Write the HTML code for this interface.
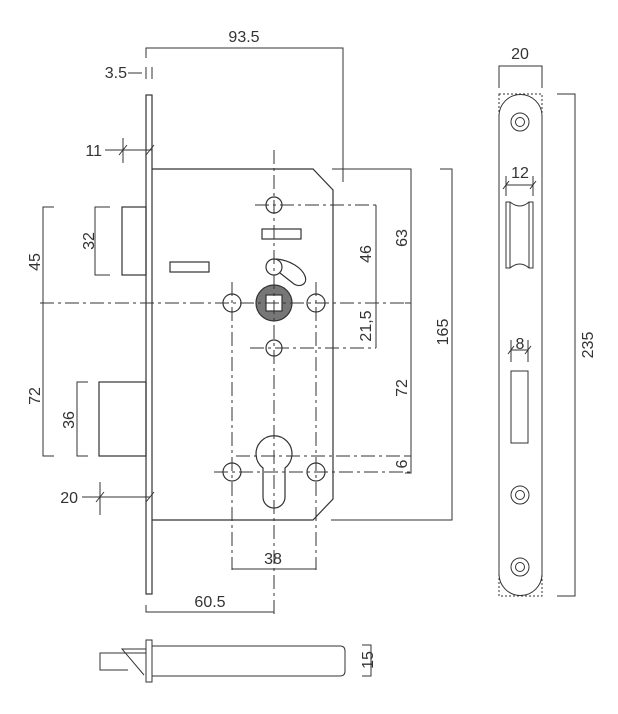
<!DOCTYPE html>
<html><head><meta charset="utf-8"><style>
html,body{margin:0;padding:0;background:#fff;}
svg{display:block;}
text{font-family:"Liberation Sans",sans-serif;font-size:16px;fill:#333;}
</style></head><body>
<svg width="618" height="714" viewBox="0 0 618 714" xmlns="http://www.w3.org/2000/svg">
<g stroke="#333" stroke-width="1.2" fill="none">
<rect x="146" y="95" width="6" height="499"/>
<path d="M152 169 H313 L333 190 V499 L313 520 H152"/>
<rect x="122" y="207" width="24" height="68"/>
<rect x="99" y="382" width="47" height="74"/>
<rect x="262" y="229" width="39" height="10"/>
<rect x="170" y="262" width="39" height="10"/>
<circle cx="274" cy="267" r="8"/>
<path d="M276 259 C290 260 302 268 305 276 C308 284 300 288 294 284 L280 273"/>
<circle cx="274" cy="303" r="18" fill="#777"/>
<rect x="266" y="295" width="16" height="16" fill="#fff"/>
<circle cx="274" cy="205" r="8"/>
<circle cx="232" cy="303" r="9"/>
<circle cx="316" cy="303" r="9"/>
<circle cx="274" cy="348" r="8"/>
<circle cx="232" cy="472" r="9"/>
<circle cx="316" cy="472" r="9"/>
<path d="M263 468 A18 18 0 1 1 285 468 V497 A11 11 0 0 1 263 497 Z"/>
</g>
<g stroke="#333" stroke-width="1" fill="none" stroke-dasharray="14 4 3 4">
<line x1="40" y1="303" x2="415" y2="303"/>
<line x1="274" y1="150" x2="274" y2="616"/>
<line x1="232" y1="282" x2="232" y2="570"/>
<line x1="316" y1="282" x2="316" y2="570"/>
<line x1="255" y1="205" x2="376" y2="205"/>
<line x1="250" y1="348" x2="376" y2="348"/>
<line x1="236" y1="456" x2="411" y2="456"/>
<line x1="214" y1="472" x2="411" y2="472"/>
</g>
<g stroke="#333" stroke-width="1" fill="none">
<path d="M146 58 V48 H343 V182"/>
<line x1="332" y1="169" x2="360" y2="169"/>
<path d="M128 73 H142 M146 67 V79 M152 67 V79"/>
<path d="M105 150 H152 M123 138 V163 M119 155 L127 145 M146 155 L154 145"/>
<path d="M110 207 H95 V275 H110"/>
<path d="M54 207 H43 V456 H54"/>
<path d="M88 382 H77 V456 H88"/>
<path d="M82 497 H150 M100 482 V515 M96 502 L104 492 M146 502 L154 492"/>
<path d="M376 205 V348 M370 303 H376"/>
<path d="M340 169 H411 V473 H405 M405 303 H411 M405 456 H411"/>
<path d="M440 169 H452 V520 H331"/>
<path d="M232 560 V569 H316 V560"/>
<path d="M146 605 V612 H274"/>
<rect x="146" y="640" width="6" height="42"/>
<path d="M152 646 H340 Q345 646 345 651 V671 Q345 676 340 676 H152"/>
<path d="M146 653 H100 V670 H128"/>
<path d="M146 649 H122 L144 675"/>
<path d="M362 645 H371 V676 H362"/>
<rect x="499" y="94" width="43" height="502" stroke-dasharray="2 2"/>
<path d="M499 116 A21.5 21.5 0 0 1 542 116 V574 A21.5 21.5 0 0 1 499 574 Z"/>
<circle cx="520" cy="122" r="9"/><circle cx="520" cy="122" r="4.5"/>
<circle cx="520" cy="495" r="9"/><circle cx="520" cy="495" r="4.5"/>
<circle cx="520" cy="567" r="9"/><circle cx="520" cy="567" r="4.5"/>
<path d="M506 202 H510 Q520 210 529 202 H533 V268 H529 Q520 260 510 268 H506 Z M510 202 V268 M529 202 V268"/>
<rect x="511" y="371" width="17" height="72"/>
<path d="M499 88 V66 H542 V88"/>
<path d="M557 94 H575 V596 H557"/>
<path d="M506 176 V196 M533 176 V196 M506 185 H533 M503 189 L509 181 M530 189 L536 181"/>
<path d="M511 340 V362 M528 340 V362 M511 350 H528 M508 354 L514 346 M525 354 L531 346"/>
</g>
<text x="244" y="42" text-anchor="middle">93.5</text>
<text x="127" y="78" text-anchor="end">3.5</text>
<text x="102" y="156" text-anchor="end">11</text>
<text x="78" y="503" text-anchor="end">20</text>
<text x="273" y="564" text-anchor="middle">38</text>
<text x="210" y="607" text-anchor="middle">60.5</text>
<text x="520" y="59" text-anchor="middle">20</text>
<text x="520" y="178" text-anchor="middle">12</text>
<text x="520" y="349" text-anchor="middle">8</text>
<text transform="translate(94,241) rotate(-90)" text-anchor="middle">32</text>
<text transform="translate(40,262) rotate(-90)" text-anchor="middle">45</text>
<text transform="translate(40,396) rotate(-90)" text-anchor="middle">72</text>
<text transform="translate(74,420) rotate(-90)" text-anchor="middle">36</text>
<text transform="translate(371,254) rotate(-90)" text-anchor="middle">46</text>
<text transform="translate(371,326) rotate(-90)" text-anchor="middle">21,5</text>
<text transform="translate(407,238) rotate(-90)" text-anchor="middle">63</text>
<text transform="translate(407,388) rotate(-90)" text-anchor="middle">72</text>
<text transform="translate(407,464) rotate(-90)" text-anchor="middle">6</text>
<text transform="translate(448,332) rotate(-90)" text-anchor="middle">165</text>
<text transform="translate(593,345) rotate(-90)" text-anchor="middle">235</text>
<text transform="translate(373,660) rotate(-90)" text-anchor="middle">15</text>
</svg>
</body></html>
